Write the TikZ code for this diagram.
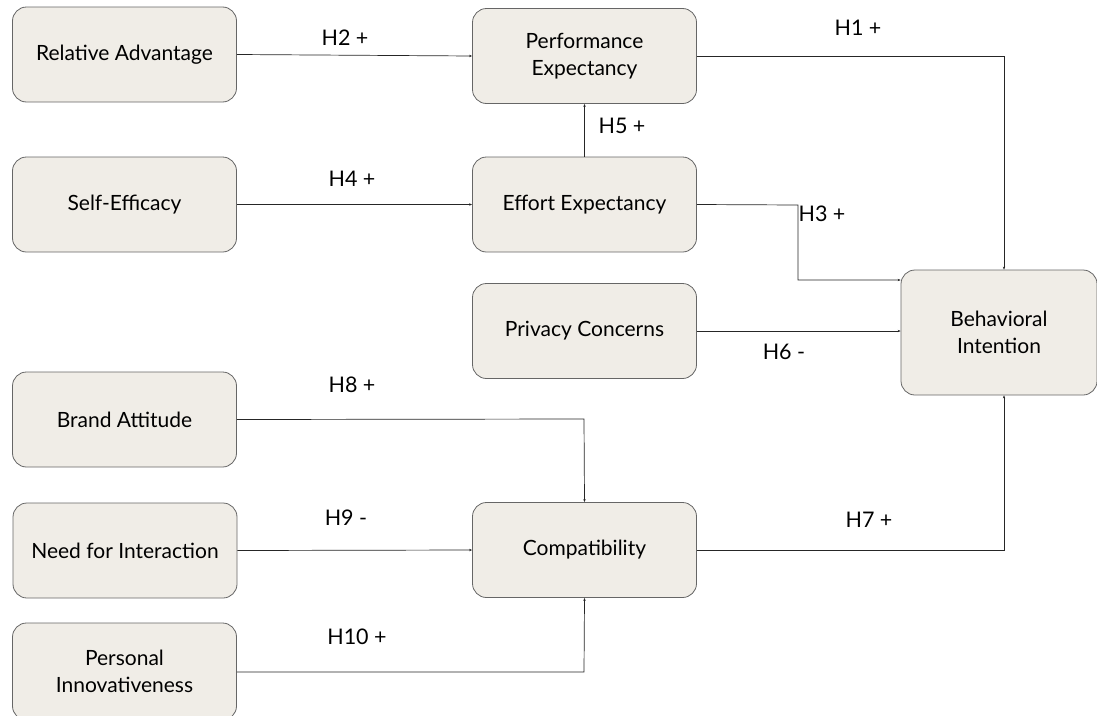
\documentclass[tikz,border=0pt]{standalone}
\usepackage{fontspec}
\setmainfont{Lato}
\usetikzlibrary{arrows.meta}
\begin{document}
\begin{tikzpicture}[x=1pt,y=-1pt,
  box/.style={draw=black!60, line width=0.8pt, fill=boxfill, rounded corners=14pt,
    minimum width=224pt, minimum height=95pt, align=center, inner sep=2pt,
    font=\fontsize{21}{27}\selectfont},
  link/.style={draw=black!85, line width=0.7pt, -{Stealth[length=3pt,width=2.4pt]}},
  lab/.style={font=\fontsize{21.5}{24}\selectfont, inner sep=1pt}]
\definecolor{boxfill}{HTML}{F0EDE7}
\useasboundingbox (0,0) rectangle (1097,715);
\clip (0,0) rectangle (1097,715);
\node[box] (ra) at (124.5,54.5) {Relative Advantage};
\node[box] (pe) at (584.5,56) {Performance\\Expectancy};
\node[box] (se) at (124.5,204.5) {Self-Efficacy};
\node[box] (ee) at (584.5,204.5) {Effort Expectancy};
\node[box] (pc) at (584.5,331) {Privacy Concerns};
\node[box, minimum width=196pt, minimum height=125pt] (bi) at (999,332.5) {Behavioral\\Intention};
\node[box] (ba) at (124.5,419.5) {Brand Attitude};
\node[box] (ni) at (125,550.5) {Need for Interaction};
\node[box] (co) at (584.5,550) {Compatibility};
\node[box, minimum height=97pt] (pi) at (124.5,671.5) {Personal\\Innovativeness};

\coordinate (c1) at (1004,56);
\coordinate (c3a) at (798,205);
\coordinate (c3b) at (798,280);
\coordinate (c8) at (584,419);
\coordinate (c10) at (584,672);
\coordinate (c7) at (1004,550);

\draw[link] (ra.east) -- (pe.west);
\draw[link] (se.east) -- (ee.west);
\draw[link] (ee.north) -- (pe.south);
\draw[link] (pe.east) -- (c1) -- (bi.north -| c1);
\draw[link] (ee.east) -- (c3a) -- (c3b) -- (bi.west |- c3b);
\draw[link] (pc.east) -- (bi.west |- pc.east);
\draw[link] (ba.east) -- (c8) -- (co.north);
\draw[link] (ni.east) -- (co.west);
\draw[link] (pi.east |- c10) -- (c10) -- (co.south);
\draw[link] (co.east) -- (c7) -- (bi.south -| c7);

\node[lab] (h2) at (345,38) {H2 +};
\node[lab] (h1) at (858,28) {H1 +};
\node[lab] (h5) at (622,126) {H5 +};
\node[lab] (h4) at (352,179) {H4 +};
\node[lab] (h3) at (822,214) {H3 +};
\node[lab] (h6) at (784,352) {H6 -};
\node[lab] (h8) at (352,385) {H8 +};
\node[lab] (h9) at (346,518) {H9 -};
\node[lab] (h10) at (357,637) {H10 +};
\node[lab] (h7) at (869,520) {H7 +};
\end{tikzpicture}
\end{document}
